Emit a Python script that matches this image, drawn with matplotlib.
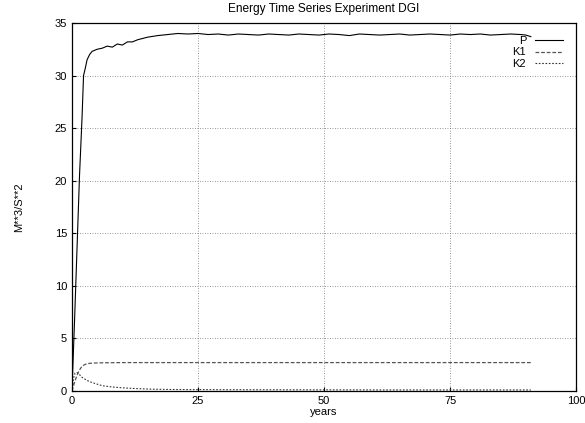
import numpy as np
import matplotlib
matplotlib.use("Agg")
import matplotlib.pyplot as plt

plt.rcParams['font.family'] = ['Liberation Sans', 'DejaVu Sans']

# energy series (years, value)
p_years = [0, 0.5, 1, 1.5, 2, 2.3, 2.6, 3, 3.5, 4, 5, 6, 7, 8, 9, 10, 11, 12, 13,
           15, 17, 19, 21, 23, 25, 27, 29, 31, 33, 35, 37, 39, 41, 43, 45, 47,
           49, 51, 53, 55, 57, 59, 61, 63, 65, 67, 69, 71, 73, 75, 77, 79, 81,
           83, 85, 87, 89, 90, 91]
p_vals = [0, 6.5, 13.5, 20.5, 26.0, 30.0, 30.6, 31.5, 32.0, 32.3, 32.5, 32.6,
          32.8, 32.7, 33.0, 32.9, 33.2, 33.2, 33.4, 33.65, 33.8, 33.9, 34.0,
          33.95, 34.0, 33.9, 33.95, 33.85, 33.95, 33.9, 33.85, 33.95, 33.9,
          33.85, 33.95, 33.9, 33.85, 33.95, 33.9, 33.8, 33.95, 33.9, 33.85,
          33.9, 33.95, 33.85, 33.9, 33.95, 33.9, 33.85, 33.95, 33.9, 33.95,
          33.85, 33.9, 33.95, 33.9, 33.85, 33.7]

k1_years = [0, 0.5, 1, 1.5, 2, 2.5, 3, 4, 6, 10, 20, 40, 60, 80, 91]
k1_vals = [0, 0.8, 1.5, 2.0, 2.35, 2.5, 2.6, 2.65, 2.68, 2.7, 2.7, 2.7, 2.7, 2.7, 2.7]

k2_years = [0, 0.3, 0.6, 1, 1.5, 2, 3, 4, 5, 6, 8, 10, 13, 16, 20, 30, 45, 60, 75, 91]
k2_vals = [0, 1.2, 1.7, 1.75, 1.55, 1.3, 1.0, 0.8, 0.65, 0.5, 0.38, 0.3, 0.22,
           0.17, 0.14, 0.12, 0.11, 0.1, 0.1, 0.1]

fig = plt.figure(figsize=(5.85, 4.23), dpi=100)
ax = fig.add_axes([0.123, 0.0757, 0.862, 0.87])

ax.plot(p_years, p_vals, color='black', lw=0.8, label='P')
ax.plot(k1_years, k1_vals, color='#555555', lw=0.9, ls=(0, (3, 1.5)), label='K1')
ax.plot(k2_years, k2_vals, color='#333333', lw=0.8, ls=(0, (1.5, 1.5)), label='K2')

ax.set_xlim(0, 100)
ax.set_ylim(0, 35)
ax.set_xticks([0, 25, 50, 75, 100])
ax.set_yticks(np.arange(0, 36, 5))
ax.grid(True, ls=(0, (1, 2)), color='#777777', lw=0.6)
ax.tick_params(labelsize=8, length=3, direction='in')
for s in ax.spines.values():
    s.set_linewidth(0.9)

ax.set_title('Energy Time Series Experiment DGI', fontsize=8.6, pad=8)
ax.set_xlabel('years', fontsize=8, labelpad=1)
ax.set_ylabel('M**3/S**2', fontsize=8, labelpad=22)

ax.legend(loc='upper right', frameon=False, markerfirst=False, fontsize=8,
          handlelength=2.5, labelspacing=0.1, borderaxespad=0.8)

fig.savefig('out.png', dpi=100)
